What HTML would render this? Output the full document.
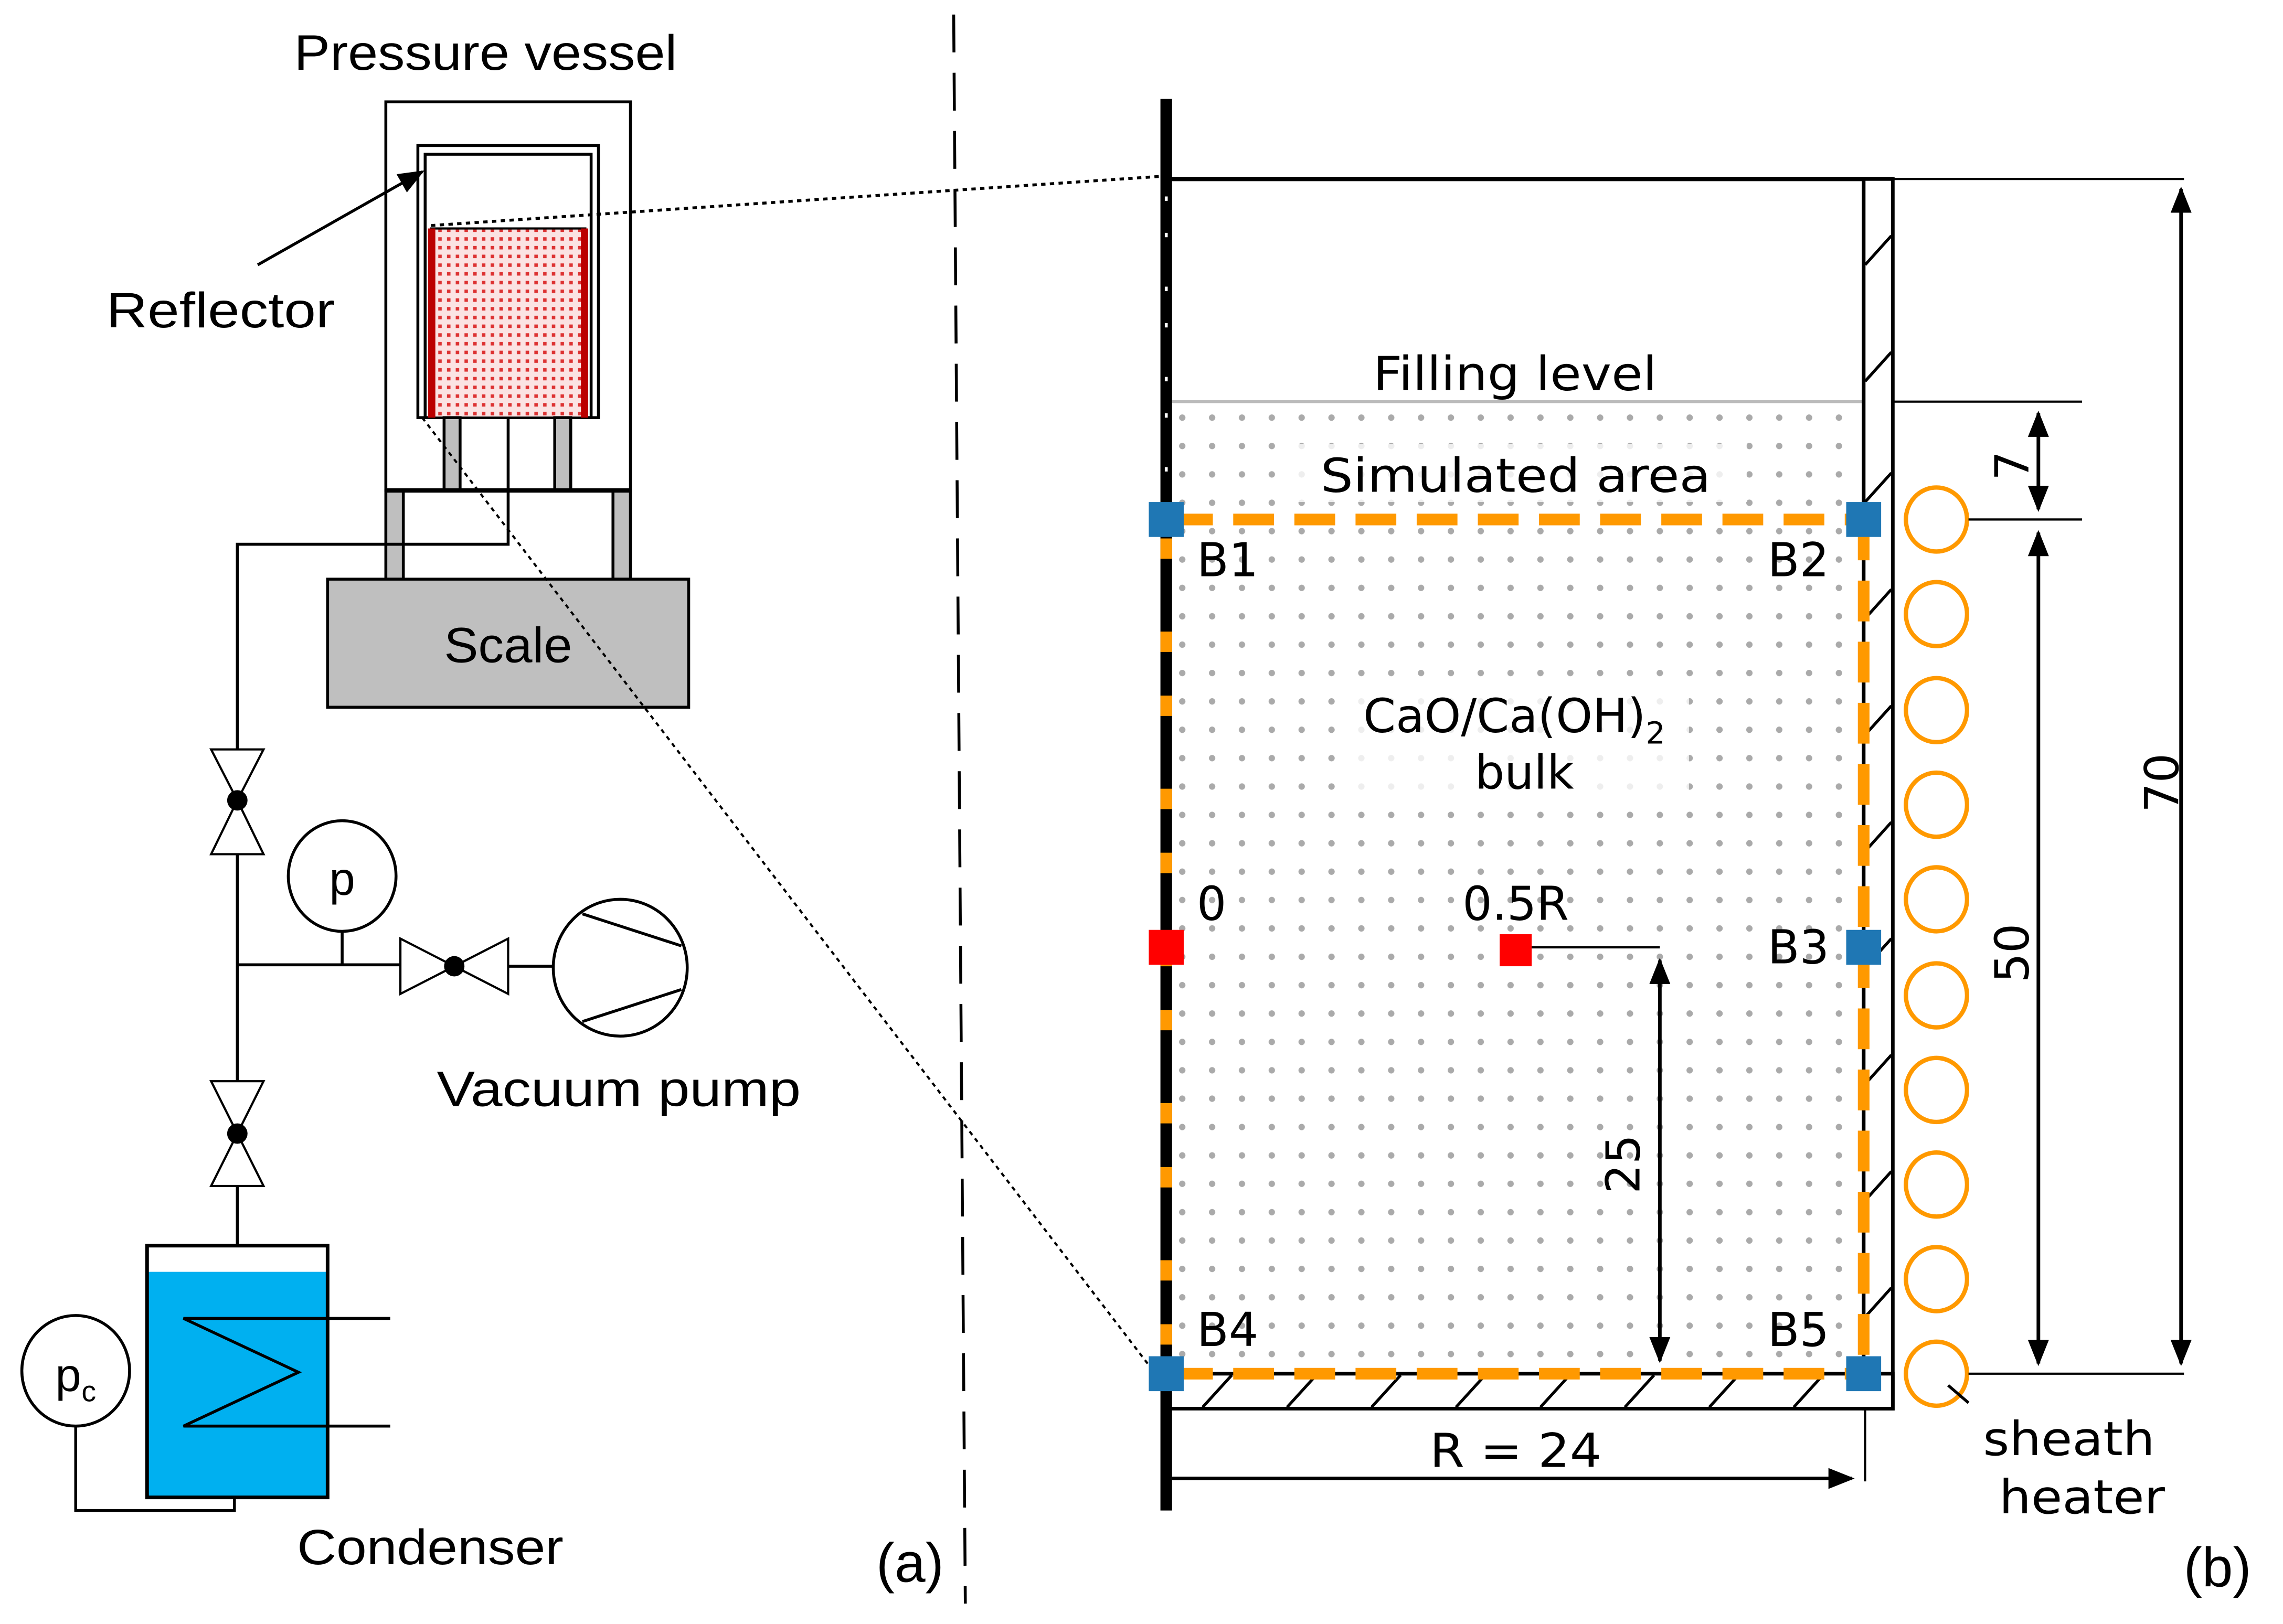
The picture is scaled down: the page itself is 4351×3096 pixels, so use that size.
<!DOCTYPE html>
<html><head><meta charset="utf-8"><style>
html,body{margin:0;padding:0;background:#fff;}
svg{display:block;}
text{font-family:"Liberation Sans","DejaVu Sans",sans-serif;fill:#000;}
.r{font-family:"DejaVu Sans","Liberation Sans",sans-serif;}
</style></head><body>
<svg width="4351" height="3096" viewBox="0 0 1568 1116" preserveAspectRatio="none" xmlns="http://www.w3.org/2000/svg">
<defs>
<pattern id="pink" width="6" height="6" patternUnits="userSpaceOnUse"><rect width="6" height="6" fill="#fbe3e3"/><rect x="1" y="1" width="2.4" height="2.4" fill="#d33"/></pattern>
<pattern id="gdots" width="20.5" height="19.5" patternUnits="userSpaceOnUse" x="808" y="283"><circle cx="4" cy="4" r="2.2" fill="#aaa"/></pattern>
<marker id="ah2" viewBox="0 0 10 10" refX="9" refY="5" markerWidth="18" markerHeight="18" orient="auto-start-reverse" markerUnits="userSpaceOnUse"><path d="M0,1 L10,5 L0,9 z" fill="#000"/></marker>
</defs>

<!-- LEFT (a) -->
<text x="202" y="48" font-size="34" textLength="263" lengthAdjust="spacingAndGlyphs">Pressure vessel</text>
<rect x="265" y="70" width="168" height="267" fill="none" stroke="#000" stroke-width="2"/>
<rect x="287" y="100" width="124" height="187" fill="none" stroke="#000" stroke-width="2"/>
<rect x="292" y="106" width="114" height="181" fill="none" stroke="#000" stroke-width="2"/>
<rect x="296" y="157" width="106" height="130" fill="url(#pink)" stroke="#000" stroke-width="1.5"/>
<rect x="294" y="157" width="5" height="130" fill="#b00"/>
<rect x="399" y="157" width="5" height="130" fill="#b00"/>
<rect x="305" y="287" width="11" height="50" fill="#bfbfbf" stroke="#000" stroke-width="2"/>
<rect x="381" y="287" width="11" height="50" fill="#bfbfbf" stroke="#000" stroke-width="2"/>
<rect x="265" y="337" width="12" height="61" fill="#bfbfbf" stroke="#000" stroke-width="2"/>
<rect x="421" y="337" width="12" height="61" fill="#bfbfbf" stroke="#000" stroke-width="2"/>
<line x1="265" y1="337" x2="433" y2="337" stroke="#000" stroke-width="3"/>
<polyline points="349,287 349,374 163,374 163,515" fill="none" stroke="#000" stroke-width="2"/>
<rect x="225" y="398" width="248" height="88" fill="#bfbfbf" stroke="#000" stroke-width="2"/>
<text x="305" y="455" font-size="34" textLength="88" lengthAdjust="spacingAndGlyphs">Scale</text>
<line x1="177" y1="182" x2="290" y2="118" stroke="#000" stroke-width="2" marker-end="url(#ah2)"/>
<text x="73" y="225" font-size="34" textLength="157" lengthAdjust="spacingAndGlyphs">Reflector</text>

<polygon points="145,515 181,515 163,550" fill="#fff" stroke="#000" stroke-width="1.5"/>
<polygon points="145,587 181,587 163,550" fill="#fff" stroke="#000" stroke-width="1.5"/>
<circle cx="163" cy="550" r="7" fill="#000"/>
<line x1="163" y1="587" x2="163" y2="743" stroke="#000" stroke-width="2"/>
<ellipse cx="235" cy="602" rx="37" ry="38" fill="#fff" stroke="#000" stroke-width="2"/>
<text x="235" y="615" font-size="32" text-anchor="middle">p</text>
<line x1="235" y1="640" x2="235" y2="663" stroke="#000" stroke-width="2"/>
<line x1="163" y1="663" x2="275" y2="663" stroke="#000" stroke-width="2"/>
<polygon points="275,645 275,683 312,664" fill="#fff" stroke="#000" stroke-width="1.5"/>
<polygon points="349,645 349,683 312,664" fill="#fff" stroke="#000" stroke-width="1.5"/>
<circle cx="312" cy="664" r="7" fill="#000"/>
<line x1="349" y1="664" x2="380" y2="664" stroke="#000" stroke-width="2"/>
<ellipse cx="426" cy="665" rx="46" ry="47" fill="#fff" stroke="#000" stroke-width="2"/>
<line x1="400" y1="628" x2="468" y2="650" stroke="#000" stroke-width="2"/>
<line x1="400" y1="702" x2="468" y2="680" stroke="#000" stroke-width="2"/>
<text x="300" y="760" font-size="34" textLength="250" lengthAdjust="spacingAndGlyphs">Vacuum pump</text>
<polygon points="145,743 181,743 163,779" fill="#fff" stroke="#000" stroke-width="1.5"/>
<polygon points="145,815 181,815 163,779" fill="#fff" stroke="#000" stroke-width="1.5"/>
<circle cx="163" cy="779" r="7" fill="#000"/>
<line x1="163" y1="815" x2="163" y2="856" stroke="#000" stroke-width="2"/>
<rect x="102" y="874" width="122" height="154" fill="#00b0f0"/>
<rect x="101" y="856" width="124" height="173" fill="none" stroke="#000" stroke-width="2.5"/>
<polyline points="268,906 126,906 205,943 126,980 268,980" fill="none" stroke="#000" stroke-width="2"/>
<ellipse cx="52" cy="942" rx="37" ry="38" fill="#fff" stroke="#000" stroke-width="2"/>
<text x="38" y="956" font-size="32">p</text><text x="56" y="963" font-size="20">c</text>
<polyline points="52,980 52,1038 161,1038 161,1029" fill="none" stroke="#000" stroke-width="2"/>
<text x="204" y="1075" font-size="34" textLength="183" lengthAdjust="spacingAndGlyphs">Condenser</text>
<text x="625" y="1087" font-size="38" text-anchor="middle">(a)</text>

<line x1="655" y1="10" x2="663" y2="1102" stroke="#000" stroke-width="2" stroke-dasharray="26,14"/>
<line x1="296" y1="155" x2="800" y2="121" stroke="#000" stroke-width="2" stroke-dasharray="3,3"/>
<line x1="290" y1="287" x2="792" y2="942" stroke="#000" stroke-width="1.5" stroke-dasharray="3,3"/>

<!-- RIGHT (b) -->
<rect x="805" y="278" width="475" height="666" fill="url(#gdots)"/>
<line x1="805" y1="276" x2="1280" y2="276" stroke="#bbb" stroke-width="2"/>
<text class="r" x="943" y="268" font-size="32" textLength="195" lengthAdjust="spacingAndGlyphs">Filling level</text>
<rect x="880" y="305" width="320" height="40" fill="#fff" opacity="0.8"/>
<text class="r" x="907" y="338" font-size="32" textLength="268" lengthAdjust="spacingAndGlyphs">Simulated area</text>
<rect x="920" y="470" width="240" height="80" fill="#fff" opacity="0.8"/>
<text class="r" x="1040" y="503" font-size="32" text-anchor="middle">CaO/Ca(OH)<tspan font-size="21" dy="8">2</tspan></text>
<text class="r" x="1047" y="542" font-size="32" text-anchor="middle">bulk</text>

<line x1="801" y1="123" x2="1300" y2="123" stroke="#000" stroke-width="3"/>
<rect x="1280" y="123" width="20" height="845" fill="#fff" stroke="#000" stroke-width="2.5"/>
<g stroke="#000" stroke-width="2">
<line x1="1281" y1="182" x2="1299" y2="162"/><line x1="1281" y1="262" x2="1299" y2="242"/>
<line x1="1281" y1="345" x2="1299" y2="325"/><line x1="1281" y1="425" x2="1299" y2="405"/>
<line x1="1281" y1="505" x2="1299" y2="485"/><line x1="1281" y1="585" x2="1299" y2="565"/>
<line x1="1281" y1="665" x2="1299" y2="645"/><line x1="1281" y1="745" x2="1299" y2="725"/>
<line x1="1281" y1="825" x2="1299" y2="805"/><line x1="1281" y1="905" x2="1299" y2="885"/>
</g>
<rect x="801" y="944" width="499" height="24" fill="#fff" stroke="#000" stroke-width="2.5"/>
<g stroke="#000" stroke-width="2">
<line x1="826" y1="967" x2="846" y2="945"/><line x1="884" y1="967" x2="904" y2="945"/>
<line x1="942" y1="967" x2="962" y2="945"/><line x1="1000" y1="967" x2="1020" y2="945"/>
<line x1="1058" y1="967" x2="1078" y2="945"/><line x1="1116" y1="967" x2="1136" y2="945"/>
<line x1="1174" y1="967" x2="1194" y2="945"/><line x1="1232" y1="967" x2="1252" y2="945"/>
</g>
<line x1="801" y1="68" x2="801" y2="1038" stroke="#000" stroke-width="8"/>
<line x1="801" y1="135" x2="801" y2="340" stroke="#fff" stroke-width="2" stroke-dasharray="3,22,3,34"/>
<line x1="801" y1="370" x2="801" y2="930" stroke="#f90" stroke-width="8" stroke-dasharray="14,50,14,30"/>
<g stroke="#f90" stroke-width="8" fill="none" stroke-dasharray="28,14">
<line x1="805" y1="357" x2="1280" y2="357"/>
<line x1="1280" y1="357" x2="1280" y2="944"/>
<line x1="805" y1="944" x2="1280" y2="944"/>
</g>
<g fill="#1f77b4">
<rect x="789" y="345" width="24" height="24"/><rect x="1268" y="345" width="24" height="24"/>
<rect x="1268" y="639" width="24" height="24"/><rect x="789" y="932" width="24" height="24"/>
<rect x="1268" y="932" width="24" height="24"/>
</g>
<rect x="789" y="639" width="24" height="24" fill="#f00"/>
<rect x="1030" y="642" width="22" height="22" fill="#f00"/>
<g font-size="32" class="r">
<text class="r" x="822" y="396">B1</text><text class="r" x="1214" y="396">B2</text>
<text class="r" x="1214" y="662">B3</text><text class="r" x="822" y="925">B4</text><text class="r" x="1214" y="925">B5</text>
<text class="r" x="822" y="632">0</text><text class="r" x="1041" y="632" text-anchor="middle">0.5R</text>
</g>
<line x1="1052" y1="651" x2="1140" y2="651" stroke="#000" stroke-width="1.5"/>
<line x1="1140" y1="660" x2="1140" y2="935" stroke="#000" stroke-width="2.5" marker-start="url(#ah2)" marker-end="url(#ah2)"/>
<text class="r" transform="translate(1126,800) rotate(-90)" font-size="32" text-anchor="middle">25</text>
<g fill="none" stroke="#f90" stroke-width="3">
<ellipse cx="1330" cy="357" rx="21" ry="22"/><ellipse cx="1330" cy="422" rx="21" ry="22"/>
<ellipse cx="1330" cy="488" rx="21" ry="22"/><ellipse cx="1330" cy="553" rx="21" ry="22"/>
<ellipse cx="1330" cy="618" rx="21" ry="22"/><ellipse cx="1330" cy="684" rx="21" ry="22"/>
<ellipse cx="1330" cy="749" rx="21" ry="22"/><ellipse cx="1330" cy="814" rx="21" ry="22"/>
<ellipse cx="1330" cy="879" rx="21" ry="22"/><ellipse cx="1330" cy="944" rx="21" ry="22"/>
</g>
<line x1="1338" y1="952" x2="1352" y2="964" stroke="#000" stroke-width="2"/>
<g stroke="#000" stroke-width="1.5">
<line x1="1300" y1="123" x2="1500" y2="123"/><line x1="1300" y1="276" x2="1430" y2="276"/>
<line x1="1352" y1="357" x2="1430" y2="357"/><line x1="1352" y1="944" x2="1500" y2="944"/>
<line x1="1281" y1="968" x2="1281" y2="1018"/>
</g>
<line x1="1400" y1="284" x2="1400" y2="350" stroke="#000" stroke-width="2.5" marker-start="url(#ah2)" marker-end="url(#ah2)"/>
<line x1="1400" y1="366" x2="1400" y2="937" stroke="#000" stroke-width="2.5" marker-start="url(#ah2)" marker-end="url(#ah2)"/>
<line x1="1498" y1="130" x2="1498" y2="937" stroke="#000" stroke-width="2.5" marker-start="url(#ah2)" marker-end="url(#ah2)"/>
<text class="r" transform="translate(1393,320) rotate(-90)" font-size="32" text-anchor="middle">7</text>
<text class="r" transform="translate(1393,655) rotate(-90)" font-size="32" text-anchor="middle">50</text>
<text class="r" transform="translate(1496,538) rotate(-90)" font-size="32" text-anchor="middle">70</text>
<line x1="805" y1="1016" x2="1272" y2="1016" stroke="#000" stroke-width="2.5" marker-end="url(#ah2)"/>
<text class="r" x="982" y="1008" font-size="32" textLength="118" lengthAdjust="spacingAndGlyphs">R = 24</text>
<text class="r" x="1362" y="1000" font-size="32" textLength="118" lengthAdjust="spacingAndGlyphs">sheath</text>
<text class="r" x="1373" y="1040" font-size="32" textLength="114" lengthAdjust="spacingAndGlyphs">heater</text>
<text x="1523" y="1090" font-size="38" text-anchor="middle">(b)</text>
</svg>
</body></html>
